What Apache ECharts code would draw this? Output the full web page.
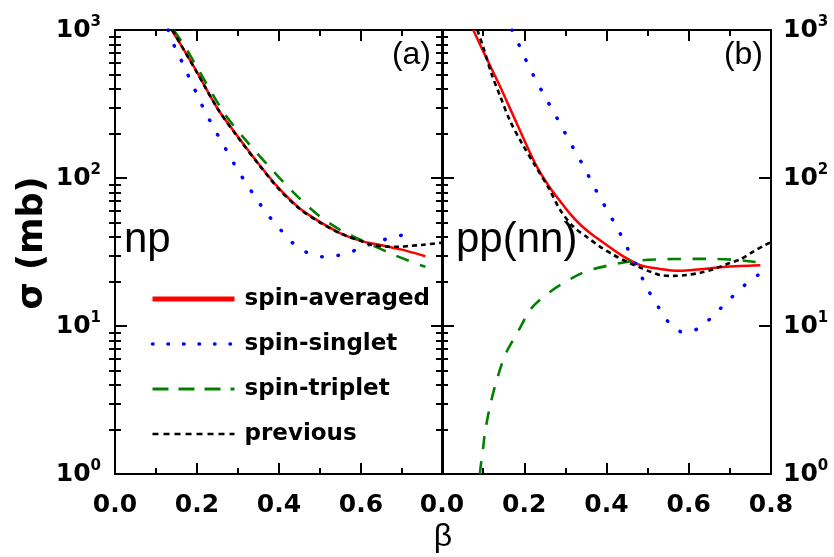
<!DOCTYPE html>
<html><head><meta charset="utf-8">
<script src="https://cdn.jsdelivr.net/npm/echarts@6/dist/echarts.min.js"></script>
<style>html,body{margin:0;padding:0;background:#fff}#c{width:834px;height:557px}</style>
</head><body><div id="c"></div>
<script>
// ---- data ----
const seriesNames = ['spin-averaged', 'spin-singlet', 'spin-triplet', 'previous'];
const xTicks = [0, 0.2, 0.4, 0.6, 0.8];
const yMajor = [1, 10, 100, 1000];
const yMinor = [2, 3, 4, 5, 6, 7, 8, 9, 20, 30, 40, 50, 60, 70, 80, 90, 200, 300, 400, 500, 600, 700, 800, 900];
const panelLabels = ['(a)', '(b)'];
const systemLabels = ['np', 'pp(nn)'];

// panel (a): np
const npAveraged = [[0.138,1000],[0.16,800],[0.2,520],[0.25,295],[0.3,190],[0.35,125],[0.4,85],[0.45,62.5],[0.5,50.5],[0.55,42.3],[0.6,37.6],[0.65,35.1],[0.7,32.8],[0.757,29.6]];
const npSinglet = [[0.13,1000],[0.146,764],[0.164,605],[0.181,476],[0.198,378],[0.215,299],[0.234,237],[0.255,186],[0.276,147],[0.297,116],[0.32,92],[0.344,73],[0.37,57.7],[0.401,45.7],[0.433,36.5],[0.469,31.3],[0.507,29.4],[0.542,29.9],[0.581,32.1],[0.618,35.3],[0.654,38.1],[0.691,40.6],[0.728,42.3]];
const npTriplet = [[0.143,1000],[0.171,771],[0.2,560],[0.268,270],[0.325,172],[0.38,116],[0.435,80],[0.496,56],[0.557,43.4],[0.626,35.3],[0.68,30.3],[0.744,25.8],[0.757,25.1]];
const npPrevious = [[0.14,1000],[0.2,515],[0.25,295],[0.3,188],[0.35,124],[0.4,84],[0.45,62],[0.5,50],[0.55,42.2],[0.6,37.5],[0.626,35.3],[0.663,34.4],[0.69,34.3],[0.72,34.8],[0.748,35.3],[0.8,36.6]];

// panel (b): pp(nn)
const ppAveraged = [[0.076,1000],[0.1,720],[0.137,440],[0.18,240],[0.226,126],[0.26,88],[0.287,70],[0.311,57.5],[0.336,48.5],[0.36,42.5],[0.384,38],[0.433,30.5],[0.482,25.8],[0.53,24.3],[0.579,23.6],[0.628,24.2],[0.676,24.9],[0.725,25.4],[0.774,25.7]];
const ppSinglet = [[0.17,1000],[0.178,902],[0.195,713],[0.212,562],[0.231,446],[0.251,352],[0.272,278],[0.292,220],[0.312,173],[0.333,137],[0.352,109],[0.372,85],[0.392,67.5],[0.413,53.4],[0.433,42.3],[0.451,33.5],[0.47,26.5],[0.488,20.8],[0.506,16.6],[0.528,13.2],[0.555,10.3],[0.59,9.0],[0.628,9.8],[0.664,12.1],[0.699,15.1],[0.736,18.9],[0.772,22.5]];
const ppTriplet = [[0.092,1.0],[0.095,1.18],[0.1,1.5],[0.105,1.95],[0.117,2.9],[0.133,4.3],[0.155,6.5],[0.187,9.4],[0.21,12.3],[0.226,14.0],[0.26,16.8],[0.287,18.9],[0.348,23.3],[0.409,25.8],[0.465,27.5],[0.53,28.2],[0.595,28.4],[0.652,28.4],[0.717,27.9],[0.77,26.9]];
const ppPrevious = [[0.086,1000],[0.1,770],[0.121,500],[0.141,360],[0.165,245],[0.194,172],[0.226,122],[0.26,85],[0.287,61],[0.319,47],[0.352,40],[0.384,34.4],[0.417,30.2],[0.449,27.2],[0.482,24.8],[0.506,23.3],[0.53,22.1],[0.563,21.8],[0.595,22.1],[0.628,22.9],[0.66,24.2],[0.693,26.2],[0.725,28.2],[0.757,31.8],[0.786,35.3],[0.8,36.8]];

const panelData = [
  [npAveraged, npSinglet, npTriplet, npPrevious],
  [ppAveraged, ppSinglet, ppTriplet, ppPrevious]
];

// ---- styles ----
const styles = [
  { color: '#ff0000', width: 2.5, type: 'solid', cap: 'butt' },
  { color: '#0000ff', width: 3.5, type: [0.5, 16], cap: 'round' },
  { color: '#008000', width: 2.6, type: [13, 12], cap: 'butt' },
  { color: '#000000', width: 2.6, type: [5, 4], cap: 'butt' }
];
const legendLine = [
  { width: 5, type: 'solid' },
  { width: 3.5, type: [0.5, 15], cap: 'round' },
  { width: 3, type: [16, 10] },
  { width: 2.5, type: [6, 5] }
];

const BOLD = 'DejaVu Sans';
const axisLineStyle = { color: '#000', width: 2 };

const grids = [
  { left: 115, top: 30, width: 328, height: 444 },
  { left: 442, top: 30, width: 329, height: 444 }
];

const xAxes = [];
const yAxes = [];
grids.forEach((g, gi) => {
  ['bottom', 'top'].forEach(pos => {
    xAxes.push({
      type: 'value', gridIndex: gi, position: pos,
      min: xTicks[0], max: xTicks[xTicks.length - 1], interval: 0.2,
      axisLine: { show: true, onZero: false, lineStyle: axisLineStyle },
      axisTick: { show: true, inside: true, length: 11, lineStyle: axisLineStyle },
      minorTick: { show: true, splitNumber: 2, length: 6, lineStyle: axisLineStyle },
      splitLine: { show: false }, minorSplitLine: { show: false },
      axisLabel: {
        show: pos === 'bottom', margin: 19, color: '#000',
        fontFamily: BOLD, fontWeight: 'bold', fontSize: 25,
        showMaxLabel: gi === 1, showMinLabel: true,
        formatter: v => v.toFixed(1)
      }
    });
  });
  ['left', 'right'].forEach(pos => {
    const showLab = (gi === 0 && pos === 'left') || (gi === 1 && pos === 'right');
    yAxes.push({
      type: 'log', logBase: 10, gridIndex: gi, position: pos, min: 1, max: 1000,
      axisLine: { show: true, onZero: false, lineStyle: axisLineStyle },
      axisTick: { show: true, inside: true, length: 12, lineStyle: axisLineStyle, customValues: yMajor },
      splitLine: { show: false },
      axisLabel: {
        show: showLab, margin: pos === 'left' ? 14 : 12, customValues: yMajor,
        formatter: v => '{a|10}{b|' + Math.round(Math.log10(v)) + '}',
        rich: {
          a: { fontFamily: BOLD, fontWeight: 'bold', fontSize: 25, color: '#000', lineHeight: 30 },
          b: { fontFamily: BOLD, fontWeight: 'bold', fontSize: 15, color: '#000', lineHeight: 10, verticalAlign: 'top' }
        }
      }
    });
    yAxes.push({
      type: 'log', logBase: 10, gridIndex: gi, position: pos, min: 1, max: 1000,
      axisLine: { show: false },
      axisTick: { show: true, inside: true, length: 6, lineStyle: axisLineStyle, customValues: yMinor },
      splitLine: { show: false },
      axisLabel: { show: false }
    });
  });
});

const series = [];
panelData.forEach((sets, gi) => {
  sets.forEach((d, si) => {
    const st = styles[si];
    series.push({
      type: 'line', name: seriesNames[si],
      xAxisIndex: gi * 2, yAxisIndex: gi * 4,
      data: d, symbol: 'none', smooth: 0.3,
      lineStyle: { color: st.color, width: st.width, type: st.type, cap: st.cap, join: 'round' },
      itemStyle: { color: st.color },
      z: 2 + si, silent: true, animation: false
    });
  });
});

const graphics = [
  { type: 'text', x: 124, y: 240, style: { text: systemLabels[0], font: '42px "Liberation Sans"', fill: '#000', align: 'left', verticalAlign: 'middle' } },
  { type: 'text', x: 456, y: 240, style: { text: systemLabels[1], font: '42px "Liberation Sans"', fill: '#000', align: 'left', verticalAlign: 'middle' } },
  { type: 'text', x: 431, y: 55, style: { text: panelLabels[0], font: '32px "Liberation Sans"', fill: '#000', align: 'right', verticalAlign: 'middle' } },
  { type: 'text', x: 763, y: 55, style: { text: panelLabels[1], font: '32px "Liberation Sans"', fill: '#000', align: 'right', verticalAlign: 'middle' } },
  { type: 'text', x: 443, y: 537, style: { text: 'β', font: '32px "Liberation Sans"', fill: '#000', align: 'center', verticalAlign: 'middle' } },
  { type: 'text', x: 33, y: 243, rotation: Math.PI / 2, style: { text: 'σ (mb)', font: 'bold 35px "DejaVu Sans"', fill: '#000', align: 'center', verticalAlign: 'middle' } }
];

const chart = echarts.init(document.getElementById('c'), null, { renderer: 'canvas' });
chart.setOption({
  animation: false,
  backgroundColor: '#fff',
  grid: grids.map(g => Object.assign({ outerBoundsMode: 'none', containLabel: false }, g)),
  xAxis: xAxes,
  yAxis: yAxes,
  legend: {
    left: 145, top: 281, orient: 'vertical',
    itemWidth: 82, itemHeight: 14, itemGap: 19,
    selectedMode: false,
    itemStyle: { opacity: 0 },
    textStyle: { fontFamily: BOLD, fontWeight: 'bold', fontSize: 23, color: '#000', lineHeight: 26, padding: [0, 0, 0, 5] },
    data: seriesNames.map((n, i) => ({ name: n, lineStyle: legendLine[i] }))
  },
  graphic: graphics,
  series: series
});
</script>
</body></html>
